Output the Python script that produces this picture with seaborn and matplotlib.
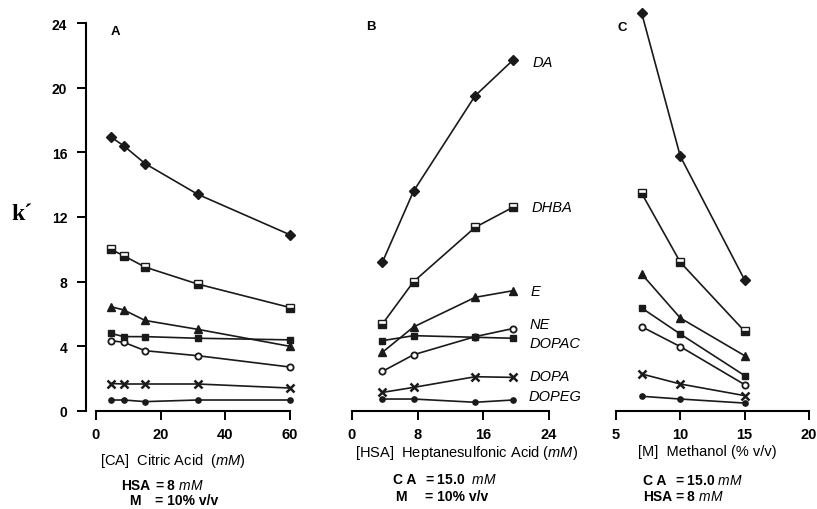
import numpy as np
import pandas as pd
import matplotlib
matplotlib.use("Agg")
from matplotlib import pyplot as plt
import seaborn as sns

sns.set_theme(style="ticks", rc={"axes.edgecolor": "black", "xtick.color": "black",
                                 "ytick.color": "black", "text.color": "black"})
plt.rcParams['font.family'] = ['Liberation Sans', 'DejaVu Sans']
plt.rcParams['mathtext.fontset'] = 'custom'
plt.rcParams['mathtext.rm'] = 'Liberation Sans'
plt.rcParams['mathtext.it'] = 'Liberation Sans:italic'

compounds = ['DA', 'DHBA', 'E', 'NE', 'DOPAC', 'DOPA', 'DOPEG']

# panel A - citric acid (mM)
a_x = [4.6, 8.6, 15.2, 31.5, 60]
a_DA = [16.95, 16.4, 15.3, 13.4, 10.9]
a_DHBA = [10.0, 9.6, 8.9, 7.85, 6.4]
a_E = [6.45, 6.25, 5.6, 5.05, 4.0]
a_NE = [4.35, 4.25, 3.73, 3.42, 2.72]
a_DOPAC = [4.8, 4.6, 4.6, 4.5, 4.4]
a_DOPA = [1.7, 1.67, 1.67, 1.67, 1.42]
a_DOPEG = [0.68, 0.68, 0.58, 0.68, 0.68]

# panel B - heptanesulfonic acid (mM)
b_x = [3.7, 7.5, 15.0, 19.6]
b_DA = [9.2, 13.6, 19.5, 21.7]
b_DHBA = [5.38, 8.0, 11.36, 12.6]
b_E = [3.63, 5.2, 7.03, 7.44]
b_NE = [2.45, 3.48, 4.6, 5.1]
b_DOPAC = [4.35, 4.66, 4.56, 4.5]
b_DOPA = [1.15, 1.46, 2.12, 2.08]
b_DOPEG = [0.74, 0.74, 0.54, 0.68]

# panel C - methanol (% v/v)
c_x = [7, 10, 15]
c_DA = [24.6, 15.75, 8.1]
c_DHBA = [13.46, 9.2, 4.93]
c_E = [8.47, 5.75, 3.42]
c_NE = [5.21, 3.98, 1.63]
c_DOPAC = [6.37, 4.76, 2.19]
c_DOPA = [2.29, 1.67, 0.95]
c_DOPEG = [0.91, 0.74, 0.49]

panels = {
    'A': (a_x, [a_DA, a_DHBA, a_E, a_NE, a_DOPAC, a_DOPA, a_DOPEG]),
    'B': (b_x, [b_DA, b_DHBA, b_E, b_NE, b_DOPAC, b_DOPA, b_DOPEG]),
    'C': (c_x, [c_DA, c_DHBA, c_E, c_NE, c_DOPAC, c_DOPA, c_DOPEG]),
}

marker_kws = {
    'DA': dict(marker='D', markersize=5, markerfacecolor='k'),
    'DHBA': dict(marker='s', markersize=6, markerfacecolor='k', fillstyle='bottom',
                 markerfacecoloralt='white'),
    'E': dict(marker='^', markersize=6, markerfacecolor='k'),
    'NE': dict(marker='o', markersize=4.5, markerfacecolor='white', markeredgewidth=1.3),
    'DOPAC': dict(marker='s', markersize=5, markerfacecolor='k'),
    'DOPA': dict(marker='x', markersize=6, markeredgewidth=1.8),
    'DOPEG': dict(marker='o', markersize=3.8, markerfacecolor='k'),
}

W, H = 817, 510
fig = plt.figure(figsize=(W / 100, H / 100), dpi=100)

# pixel layout: y 0 -> 412 px, 24 -> 24 px
y_bot, y_per = 412, (412 - 24) / 24
ylim = (0, (y_bot - 4) / y_per)


def make_axes(left, right, xa, pa, xb, pb):
    s = (pb - pa) / (xb - xa)
    ax = fig.add_axes([left / W, (H - y_bot) / H, (right - left) / W, (y_bot - 4) / H])
    ax.set_xlim(xa + (left - pa) / s, xa + (right - pa) / s)
    ax.set_ylim(*ylim)
    ax.patch.set_alpha(0)
    return ax


ax_a = make_axes(86, 300, 0, 96, 60, 290)
ax_b = make_axes(340, 560, 0, 352, 24, 549)
ax_c = make_axes(605, 815, 5, 616, 20, 809)
axes = {'A': ax_a, 'B': ax_b, 'C': ax_c}

for key, (xs, series) in panels.items():
    ax = axes[key]
    for name, ys in zip(compounds, series):
        kw = dict(marker_kws[name])
        kw.setdefault('markeredgewidth', 1.0)
        sns.lineplot(x=xs, y=ys, ax=ax, color='k', linewidth=1.2, markeredgecolor='k',
                     legend=False, **kw)
    ax.set_xlabel('')
    ax.set_ylabel('')
    for sp in ['top', 'right']:
        ax.spines[sp].set_visible(False)
    ax.spines['bottom'].set_linewidth(1.5)
    ax.spines['left'].set_linewidth(1.5)
    ax.tick_params(axis='both', direction='out', length=6.5, width=1.4, pad=5,
                   labelsize=10.5)

xticks = {'A': [0, 20, 40, 60], 'B': [0, 8, 16, 24], 'C': [5, 10, 15, 20]}
for key, ax in axes.items():
    t = xticks[key]
    ax.set_xticks(t)
    ax.set_xticklabels([str(v) for v in t], fontweight='bold')
    ax.spines['bottom'].set_bounds(t[0], t[-1])

ax_a.set_yticks([0, 4, 8, 12, 16, 20, 24])
ax_a.set_yticklabels(['0', '4', '8', '12', '16', '20', '24'], fontweight='bold', fontsize=10)
ax_a.tick_params(axis='y', pad=7)
ax_a.spines['left'].set_bounds(0, 24)
for ax in (ax_b, ax_c):
    ax.spines['left'].set_visible(False)
    ax.set_yticks([])

# compound labels in panel B
label_x = [22.0, 21.9, 21.7, 21.6, 21.6, 21.6, 21.5]
label_y = [21.6, 12.6, 7.4, 5.4, 4.2, 2.15, 0.9]
for name, lx, ly in zip(compounds, label_x, label_y):
    ax_b.text(lx, ly, name, style='italic', fontsize=10.5, va='center', ha='left',
              clip_on=False)


def ftext(x, y, s, **kw):
    fig.text(x / W, 1 - y / H, s, va='center', **kw)


ftext(11, 214, 'k\u00b4', fontsize=17, family=['Liberation Serif', 'DejaVu Serif'],
      fontweight='bold')
ftext(111, 32, 'A', fontsize=9.5, fontweight='bold')
ftext(366, 27, 'B', fontsize=9.5, fontweight='bold')
ftext(617, 28, 'C', fontsize=9.5, fontweight='bold')

ftext(100, 461, r'[CA]  Citric Acid  ($\mathit{mM}$)', fontsize=10.5)
ftext(355, 453, r'[HSA]  Heptanesulfonic Acid ($\mathit{mM}$)', fontsize=10.5)
ftext(638, 452, r'[M]  Methanol (% v/v)', fontsize=10.5)

sub = dict(fontsize=10, fontweight='bold')
ftext(121, 486, 'HSA', **sub)
ftext(155, 486, r'= 8 $\mathit{mM}$', **sub)
ftext(129, 501, 'M', **sub)
ftext(155, 501, '= 10% v/v', **sub)
ftext(393, 480, 'C A', **sub)
ftext(425, 480, r'= 15.0  $\mathit{mM}$', **sub)
ftext(395, 497, 'M', **sub)
ftext(425, 497, '= 10% v/v', **sub)
ftext(643, 481, 'C A', **sub)
ftext(675, 481, r'= 15.0 $\mathit{mM}$', **sub)
ftext(643, 497, 'HSA', **sub)
ftext(675, 497, r'= 8 $\mathit{mM}$', **sub)

fig.savefig('out.png', dpi=100)
